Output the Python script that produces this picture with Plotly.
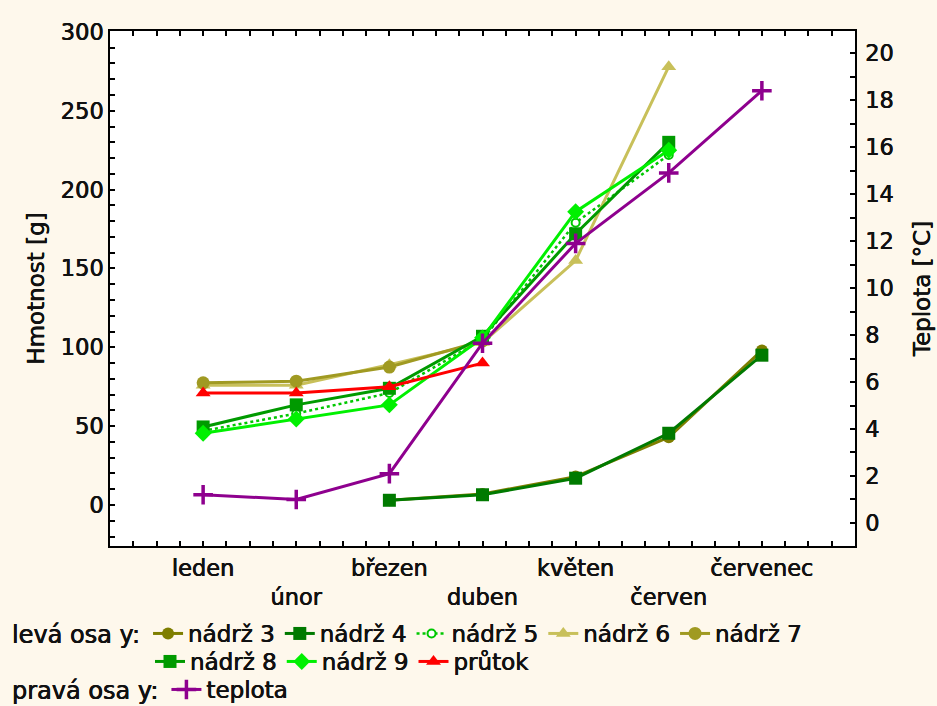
import plotly.graph_objects as go

# Months (x categories) and their two-row tick labels
months = ["leden", "únor", "březen", "duben", "květen", "červen", "červenec"]
month_labels = ["leden", "<br>únor", "březen", "<br>duben", "květen", "<br>červen", "červenec"]

# Weight per tank [g] (left axis); None = no measurement
nadrz3 = [None, None, 3, 7, 18, 43, 98]
nadrz4 = [None, None, 3, 6.5, 17, 45.5, 95]
nadrz5 = [47, 58, 71, 105, 179, 222, None]
nadrz6 = [76, 76, 89, 103, 155, 278, None]
nadrz7 = [77.5, 78.5, 87.5, 104, None, None, None]
nadrz8 = [49.5, 63.5, 74, 107, 172, 230, None]
nadrz9 = [45.5, 54.5, 63.5, 106, 186, 225, None]
prutok = [71, 71, 75, 90, None, None, None]

# Water temperature [°C] (right axis)
teplota = [1.2, 1.0, 2.1, 7.65, 11.9, 14.9, 18.4]

FONT = "DejaVu Sans"
INK = "#111111"
HEAVY = "0.3px 0px 0px #111111, -0.3px 0px 0px #111111"
x = list(range(len(months)))

fig = go.Figure()

series = [
    ("nádrž 3", nadrz3, "#7E7E00", "circle", 12, "solid", "legend"),
    ("nádrž 4", nadrz4, "#007A00", "square", 13, "solid", "legend"),
    ("nádrž 5", nadrz5, "#00C800", "circle", 8, "dot", "legend"),
    ("nádrž 6", nadrz6, "#C8C05A", "triangle-up", 13, "solid", "legend"),
    ("nádrž 7", nadrz7, "#A09A22", "circle", 13, "solid", "legend"),
    ("nádrž 8", nadrz8, "#009A00", "square", 13, "solid", "legend2"),
    ("nádrž 9", nadrz9, "#00F000", "diamond", 13, "solid", "legend2"),
    ("průtok", prutok, "#FF0000", "triangle-up", 13, "solid", "legend2"),
]

for name, vals, color, sym, size, dash, leg in series:
    if name == "nádrž 5":
        marker = dict(symbol=sym, size=size, color="white", line=dict(color=color, width=2))
        lw = 2.5
    else:
        marker = dict(symbol=sym, size=size, color=color, line=dict(width=0))
        lw = 3
    fig.add_trace(go.Scatter(
        x=x, y=vals, name=name, mode="lines+markers",
        line=dict(color=color, width=lw, dash=dash),
        marker=marker, connectgaps=False, legend=leg,
    ))

fig.add_trace(go.Scatter(
    x=x, y=teplota, name="teplota", mode="lines+markers", yaxis="y2",
    line=dict(color="#8E008E", width=3),
    marker=dict(symbol="cross-thin", size=14, line=dict(color="#8E008E", width=3.5)),
    legend="legend3",
))

tick_font = dict(family=FONT, size=22.5, color=INK, shadow=HEAVY)
legend_font = dict(family=FONT, size=23, color=INK, shadow=HEAVY)
legend_title_font = dict(family=FONT, size=24, color=INK, shadow=HEAVY)
title_font = dict(family=FONT, size=23, color=INK, shadow=HEAVY)

axis_common = dict(
    showgrid=False, zeroline=False, showline=True, linecolor="black", linewidth=1.5,
    ticks="inside", ticklen=5, tickcolor="black", tickwidth=1.5, tickfont=tick_font,
    automargin=False,
)

fig.update_layout(
    width=937, height=706,
    margin=dict(l=110, r=82, t=31, b=160),
    paper_bgcolor="#FEF8EC",
    plot_bgcolor="white",
    font=dict(family=FONT, color=INK),
    showlegend=True,
    xaxis=dict(
        range=[-1, 7], tickmode="array", tickvals=x, ticktext=month_labels,
        tickangle=0, mirror="ticks", ticklabelstandoff=1,
        minor=dict(dtick=0.25, tick0=0, ticks="inside", ticklen=5, tickcolor="black", tickwidth=1.5),
        **axis_common,
    ),
    yaxis=dict(
        range=[-26, 300.6], tickmode="linear", tick0=0, dtick=50, mirror=True,
        minor=dict(dtick=10, tick0=0, ticks="inside", ticklen=5, tickcolor="black", tickwidth=1.5),
        title=dict(text="Hmotnost [g]", font=title_font, standoff=10),
        **axis_common,
    ),
    yaxis2=dict(
        overlaying="y", side="right", range=[-0.98, 20.94],
        tickmode="linear", tick0=0, dtick=2, ticklabelstandoff=4,
        minor=dict(dtick=1, tick0=0, ticks="inside", ticklen=5, tickcolor="black", tickwidth=1.5),
        title=dict(text="Teplota [°C]", font=title_font, standoff=21),
        **axis_common,
    ),
    legend=dict(
        orientation="h", xref="container", yref="container",
        x=10 / 937, y=1 - 612 / 706, xanchor="left", yanchor="top",
        title=dict(text="levá osa y:", side="left", font=legend_title_font),
        font=legend_font, bgcolor="rgba(0,0,0,0)", itemwidth=30, tracegroupgap=0,
    ),
    legend2=dict(
        orientation="h", xref="container", yref="container",
        x=150 / 937, y=1 - 640 / 706, xanchor="left", yanchor="top",
        font=legend_font, bgcolor="rgba(0,0,0,0)", itemwidth=30,
    ),
    legend3=dict(
        orientation="h", xref="container", yref="container",
        x=10 / 937, y=1 - 668 / 706, xanchor="left", yanchor="top",
        title=dict(text="pravá osa y:", side="left", font=legend_title_font),
        font=legend_font, bgcolor="rgba(0,0,0,0)", itemwidth=30,
    ),
)

fig.write_html("out.html")
